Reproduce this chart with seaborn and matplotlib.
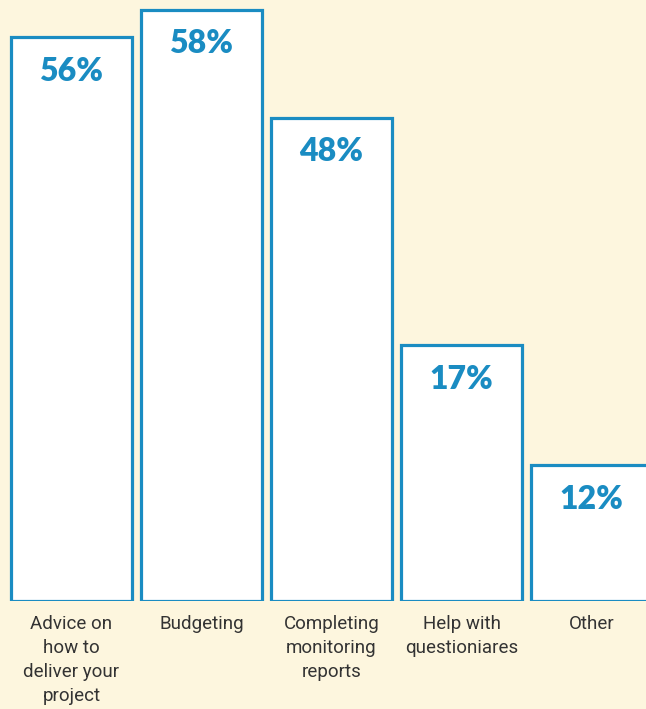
import matplotlib
matplotlib.use("Agg")
import matplotlib.pyplot as plt
import seaborn as sns
import pandas as pd

categories = ["Advice on\nhow to\ndeliver your\nproject", "Budgeting",
              "Completing\nmonitoring\nreports", "Help with\nquestioniares", "Other"]
share_labels = ["56%", "58%", "48%", "17%", "12%"]
bar_heights = [56, 58.7, 48, 25.4, 13.5]

bg = "#FDF6DE"
blue = "#1A8CC2"

sns.set_theme(style="white")
fig = plt.figure(figsize=(6.46, 7.09), dpi=100, facecolor=bg)
ax = fig.add_axes([0, 1 - 601 / 709, 1, 601 / 709])
ax.set_facecolor(bg)

df = pd.DataFrame({"cat": categories, "h": bar_heights})
sns.barplot(data=df, x="cat", y="h", color="white", width=0.93,
            edgecolor=blue, linewidth=2.3, saturation=1, ax=ax)

ax.set_xlim(-0.55, 4.419)
ax.set_ylim(0, 59.68)
for s in ax.spines.values():
    s.set_visible(False)
ax.set_xlabel("")
ax.set_ylabel("")
ax.set_yticks([])
ax.set_xticks([])

for i, (p, lab) in enumerate(zip(ax.patches, share_labels)):
    x = p.get_x() + p.get_width() / 2
    top = p.get_height()
    ax.annotate(lab, (x, top), xytext=(0, -34 * 0.72), textcoords="offset points",
                ha="center", va="center", fontsize=23, fontweight="heavy",
                color=blue, family=["Lato", "DejaVu Sans"])
    ax.annotate(categories[i], (x, 0), xytext=(0, -14 * 0.72), textcoords="offset points",
                ha="center", va="top", fontsize=13.5, color="#333333",
                linespacing=1.42, family=["Roboto", "DejaVu Sans"],
                annotation_clip=False)

fig.savefig("out.png", dpi=100, facecolor=bg)
